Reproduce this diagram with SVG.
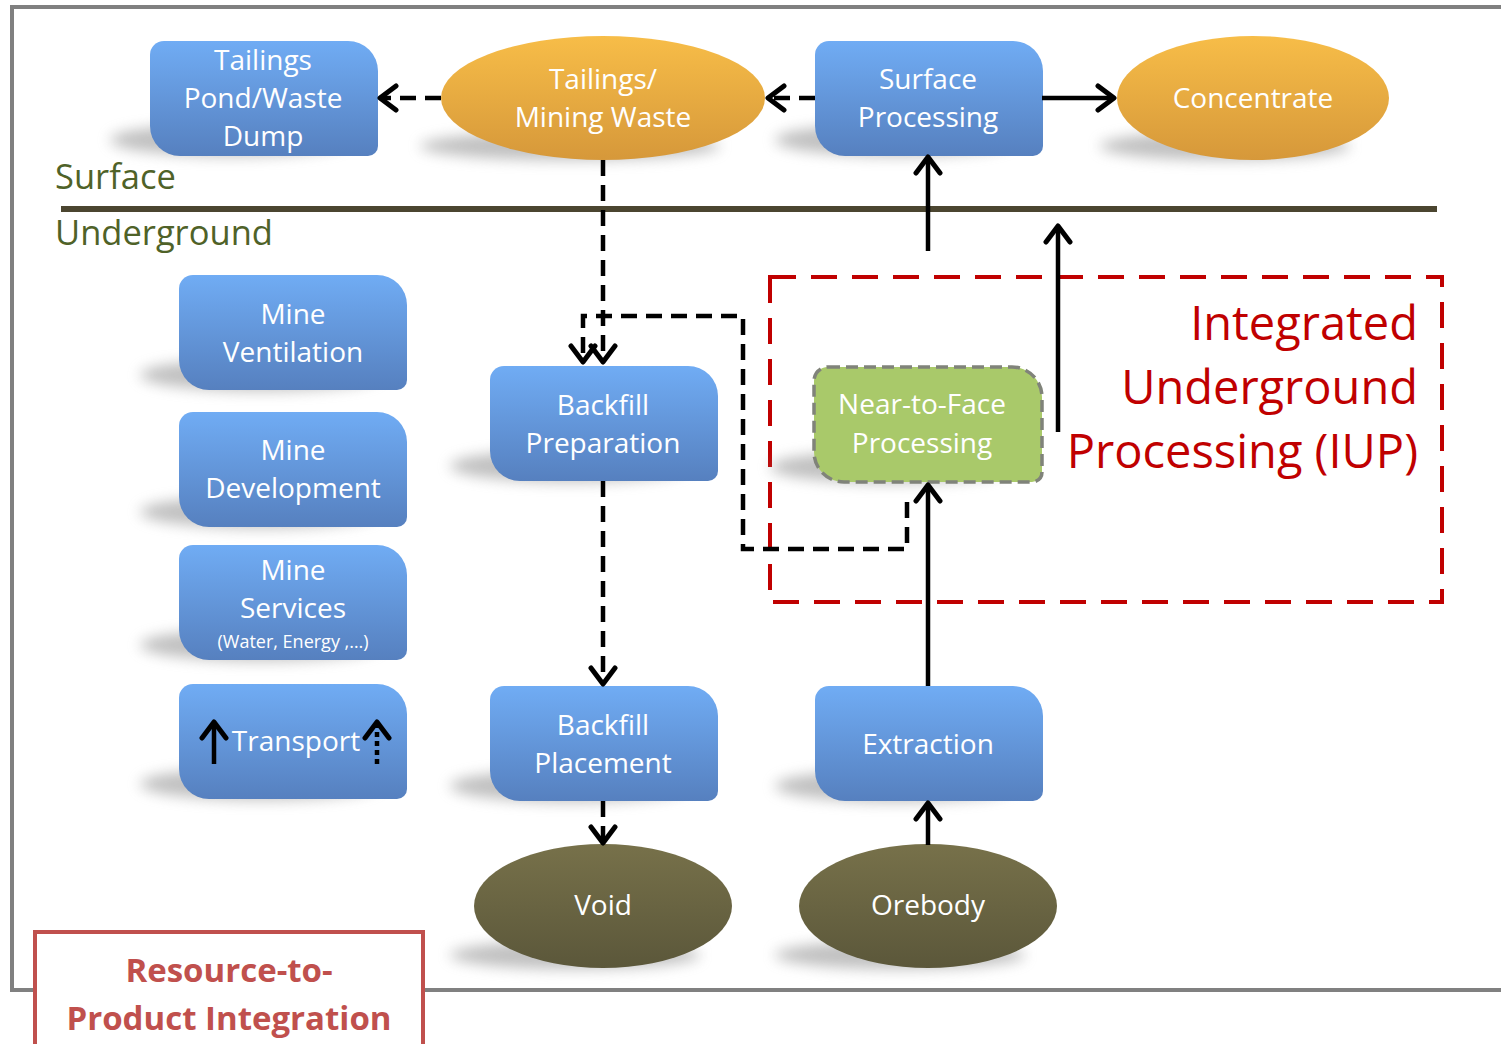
<svg xmlns="http://www.w3.org/2000/svg" width="1501" height="1044" viewBox="0 0 1501 1044">
  <defs>
    <linearGradient id="gBlue" x1="0" y1="0" x2="0" y2="1">
      <stop offset="0" stop-color="#70acf4"/>
      <stop offset="1" stop-color="#5680bf"/>
    </linearGradient>
    <linearGradient id="gOrange" x1="0" y1="0" x2="0" y2="1">
      <stop offset="0" stop-color="#f7bd48"/>
      <stop offset="1" stop-color="#d6983a"/>
    </linearGradient>
    <linearGradient id="gOlive" x1="0" y1="0" x2="0" y2="1">
      <stop offset="0" stop-color="#77714a"/>
      <stop offset="1" stop-color="#5b573a"/>
    </linearGradient>
    <filter id="soft" x="-50%" y="-100%" width="200%" height="300%">
      <feGaussianBlur stdDeviation="7"/>
    </filter>
    <marker id="head" viewBox="0 0 26 30" refX="21" refY="15" markerWidth="26" markerHeight="30" markerUnits="userSpaceOnUse" orient="auto">
      <path d="M5,3 L21,15 L5,27" fill="none" stroke="#000" stroke-width="5" stroke-linecap="round" stroke-linejoin="round"/>
    </marker>
    <!-- rounded diagonal-corner process box, 228 x 115 -->
    <path id="box" d="M14,0 H198 A30,30 0 0 1 228,30 V105 A10,10 0 0 1 218,115 H30 A30,30 0 0 1 0,85 V14 A14,14 0 0 1 14,0 Z"/>
  </defs>
  <style>
    .shadow { fill: #8c8c8c; opacity: 0.55; filter: url(#soft); }
    .blue { fill: url(#gBlue); }
    .orange { fill: url(#gOrange); }
    .olive { fill: url(#gOlive); }
    .lbl { font-family: "Open Sans", "Liberation Sans", sans-serif; font-size: 28px; fill: #ffffff; text-anchor: middle; }
    .small { font-size: 18px; }
    .layer { font-family: "Open Sans", "Liberation Sans", sans-serif; font-size: 34.5px; fill: #4f6228; }
    .iup { font-family: "Open Sans", "Liberation Sans", sans-serif; font-size: 47px; fill: #c00000; text-anchor: end; }
    .rpi { font-family: "Open Sans", "Liberation Sans", sans-serif; font-size: 33px; font-weight: bold; fill: #c0504d; text-anchor: middle; }
    .solid { fill: none; stroke: #000; stroke-width: 4.5; marker-end: url(#head); }
    .dash { fill: none; stroke: #000; stroke-width: 4.5; stroke-dasharray: 16 9; marker-end: url(#head); }
  </style>

  <rect width="1501" height="1044" fill="#ffffff"/>
  <!-- outer frame -->
  <rect x="12" y="7" width="1500" height="983" fill="none" stroke="#808080" stroke-width="4"/>

  <!-- surface / underground divide -->
  <line x1="61" y1="209" x2="1437" y2="209" stroke="#4b4530" stroke-width="6"/>
  <text class="layer" x="55" y="189">Surface</text>
  <text class="layer" x="55" y="245">Underground</text>

  <!-- IUP zone -->
  <g id="iup-zone">
    <rect x="770" y="277" width="672" height="325" fill="none" stroke="#c00000" stroke-width="4" stroke-dasharray="26 15"/>
    <text class="iup" x="1418" y="340">Integrated</text>
    <text class="iup" x="1418" y="404">Underground</text>
    <text class="iup" x="1418" y="468">Processing (IUP)</text>
  </g>

  <!-- nodes -->
  <g id="tailings-pond">
    <ellipse class="shadow" cx="230" cy="140" rx="120" ry="16"/>
    <use href="#box" x="150" y="41" class="blue"/>
    <text class="lbl" x="263" y="70">Tailings</text>
    <text class="lbl" x="263" y="108">Pond/Waste</text>
    <text class="lbl" x="263" y="146">Dump</text>
  </g>
  <g id="tailings-waste">
    <ellipse class="shadow" cx="570" cy="146" rx="150" ry="14"/>
    <ellipse cx="603" cy="98" rx="162" ry="62" class="orange"/>
    <text class="lbl" x="603" y="89">Tailings/</text>
    <text class="lbl" x="603" y="127">Mining Waste</text>
  </g>
  <g id="surface-processing">
    <ellipse class="shadow" cx="895" cy="140" rx="120" ry="16"/>
    <use href="#box" x="815" y="41" class="blue"/>
    <text class="lbl" x="928" y="89">Surface</text>
    <text class="lbl" x="928" y="127">Processing</text>
  </g>
  <g id="concentrate">
    <ellipse class="shadow" cx="1225" cy="146" rx="125" ry="14"/>
    <ellipse cx="1253" cy="98" rx="136" ry="62" class="orange"/>
    <text class="lbl" x="1253" y="108">Concentrate</text>
  </g>
  <g id="mine-ventilation">
    <ellipse class="shadow" cx="260" cy="375" rx="120" ry="16"/>
    <use href="#box" x="179" y="275" class="blue"/>
    <text class="lbl" x="293" y="324">Mine</text>
    <text class="lbl" x="293" y="362">Ventilation</text>
  </g>
  <g id="mine-development">
    <ellipse class="shadow" cx="260" cy="512" rx="120" ry="16"/>
    <use href="#box" x="179" y="412" class="blue"/>
    <text class="lbl" x="293" y="460">Mine</text>
    <text class="lbl" x="293" y="498">Development</text>
  </g>
  <g id="mine-services">
    <ellipse class="shadow" cx="260" cy="645" rx="120" ry="16"/>
    <use href="#box" x="179" y="545" class="blue"/>
    <text class="lbl" x="293" y="580">Mine</text>
    <text class="lbl" x="293" y="618">Services</text>
    <text class="lbl small" x="293" y="648">(Water, Energy ,…)</text>
  </g>
  <g id="transport">
    <ellipse class="shadow" cx="260" cy="784" rx="120" ry="16"/>
    <use href="#box" x="179" y="684" class="blue"/>
    <text class="lbl" x="296" y="751">Transport</text>
    <path class="solid" d="M214,764 V722"/>
    <path class="solid" d="M377,764 V722" stroke-dasharray="5 4"/>
  </g>
  <g id="backfill-preparation">
    <ellipse class="shadow" cx="570" cy="466" rx="120" ry="16"/>
    <use href="#box" x="490" y="366" class="blue"/>
    <text class="lbl" x="603" y="415">Backfill</text>
    <text class="lbl" x="603" y="453">Preparation</text>
  </g>
  <g id="near-to-face">
    <ellipse class="shadow" cx="890" cy="467" rx="120" ry="16"/>
    <use href="#box" x="814" y="367" fill="#a9c96a" stroke="#80837a" stroke-width="3.5" stroke-dasharray="12 6"/>
    <text class="lbl" x="922" y="414">Near-to-Face</text>
    <text class="lbl" x="922" y="453">Processing</text>
  </g>
  <g id="backfill-placement">
    <ellipse class="shadow" cx="570" cy="786" rx="120" ry="16"/>
    <use href="#box" x="490" y="686" class="blue"/>
    <text class="lbl" x="603" y="735">Backfill</text>
    <text class="lbl" x="603" y="773">Placement</text>
  </g>
  <g id="extraction">
    <ellipse class="shadow" cx="895" cy="786" rx="120" ry="16"/>
    <use href="#box" x="815" y="686" class="blue"/>
    <text class="lbl" x="928" y="754">Extraction</text>
  </g>
  <g id="void">
    <ellipse class="shadow" cx="575" cy="955" rx="125" ry="14"/>
    <ellipse cx="603" cy="906" rx="129" ry="62" class="olive"/>
    <text class="lbl" x="603" y="915">Void</text>
  </g>
  <g id="orebody">
    <ellipse class="shadow" cx="900" cy="955" rx="125" ry="14"/>
    <ellipse cx="928" cy="906" rx="129" ry="62" class="olive"/>
    <text class="lbl" x="928" y="915">Orebody</text>
  </g>

  <!-- connectors -->
  <g id="connectors">
    <path class="dash" d="M441,98 H380"/>
    <path class="dash" d="M815,98 H768"/>
    <path class="solid" d="M1042,98 H1114"/>
    <path class="dash" d="M603,160 V362"/>
    <path class="dash" d="M907,502 V549 H743 V316 H583 V362"/>
    <path class="dash" d="M603,481 V684"/>
    <path class="dash" d="M603,801 V843"/>
    <path class="solid" d="M928,845 V803"/>
    <path class="solid" d="M928,686 V485"/>
    <path class="solid" d="M928,251 V157"/>
    <path class="solid" d="M1058,432 V226"/>
  </g>

  <!-- caption box -->
  <g id="caption">
    <rect x="35" y="932" width="388" height="130" fill="#ffffff" stroke="#c0504d" stroke-width="4"/>
    <text class="rpi" x="229" y="982">Resource-to-</text>
    <text class="rpi" x="229" y="1030">Product Integration</text>
  </g>
</svg>
